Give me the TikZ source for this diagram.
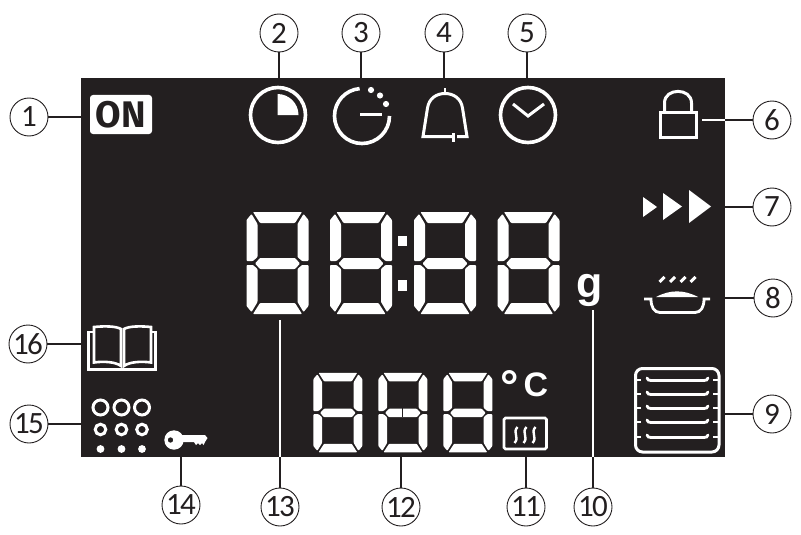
\documentclass[tikz,border=0pt]{standalone}
\usepackage{fontspec}
\usepackage{xcolor}
\setmainfont{Carlito}
\newfontfamily\calloutfont[LetterSpace=-6]{Carlito}
\newfontfamily\onfont{Fira Sans}
\newfontfamily\unitfont{Liberation Sans}
\definecolor{panel}{HTML}{231F20}
\tikzset{
  callout/.style={draw=panel,circle,line width=0.9pt,fill=white,text=panel,minimum size=38pt,inner sep=0pt,font=\calloutfont\fontsize{31}{31}\selectfont},
  leader/.style={draw=panel,line width=1.2pt},
  leaderw/.style={draw=white,line width=1.2pt},
  icon/.style={draw=white,line width=3.6pt},
  thinicon/.style={draw=white,line width=2.6pt},
  seg/.style={fill=white,rounded corners=0.8pt}
}
\newcommand{\lcddigit}[4]{
  \begin{scope}[shift={(#1,#2)},xscale=#3,yscale=#4]
    \fill[seg] (7,1) -- (56,1) -- (49,12) -- (14,12) -- cycle;
    \fill[seg] (0.5,9) -- (5.5,3) -- (11.5,13) -- (11.5,46) -- (7,50) -- (0.5,50) -- cycle;
    \fill[seg] (62.5,9) -- (57.5,3) -- (51.5,13) -- (51.5,46) -- (56,50) -- (62.5,50) -- cycle;
    \fill[seg] (9,52.5) -- (14,47) -- (49,47) -- (54,52.5) -- (49,58) -- (14,58) -- cycle;
    \fill[seg] (0.5,54) -- (7,54) -- (11.5,58) -- (11.5,91) -- (5.5,101) -- (0.5,95) -- cycle;
    \fill[seg] (62.5,54) -- (56,54) -- (51.5,58) -- (51.5,91) -- (57.5,101) -- (62.5,95) -- cycle;
    \fill[seg] (14,92) -- (49,92) -- (56,103) -- (7,103) -- cycle;
  \end{scope}
}

\begin{document}
\begin{tikzpicture}[x=1pt,y=-1pt]
\useasboundingbox (0,0) rectangle (801,535);
\fill[panel] (81,78) rectangle (725,457);

% callouts
\node[callout] (c1) at (29,117) {1};
\node[callout] (c2) at (279,33) {2};
\node[callout] (c3) at (361,33) {3};
\node[callout] (c4) at (444,33) {4};
\node[callout] (c5) at (527,33) {5};
\node[callout] (c6) at (772,120) {6};
\node[callout] (c7) at (772,207) {7};
\node[callout] (c8) at (773,298) {8};
\node[callout] (c9) at (772,414) {9};
\node[callout] (c10) at (593,507) {10};
\node[callout] (c11) at (526,507) {11};
\node[callout] (c12) at (401,507) {12};
\node[callout] (c13) at (280,507) {13};
\node[callout] (c14) at (181,505) {14};
\node[callout] (c15) at (29,424) {15};
\node[callout] (c16) at (28,344) {16};

\coordinate (e1) at (81,117);
\coordinate (e2) at (279,78);
\coordinate (e3) at (361,78);
\coordinate (e4) at (444,78);
\coordinate (e5) at (527,78);
\coordinate (e6) at (725,120);
\coordinate (s6) at (702,120);
\coordinate (e7) at (725,207);
\coordinate (e8) at (725,298);
\coordinate (e9) at (725,414);
\coordinate (e10) at (593,457);
\coordinate (s10) at (593,310);
\coordinate (e11) at (526,457);
\coordinate (e12) at (401,457);
\coordinate (e13) at (280,457);
\coordinate (s13) at (280,320);
\coordinate (e14) at (181,457);
\coordinate (e15) at (81,424);
\coordinate (e16) at (81,344);

\foreach \n in {1,...,16}
  \draw[leader] (c\n) -- (e\n);
\draw[leaderw] (e6) -- (s6);
\draw[leaderw] (e10) -- (s10);
\draw[leaderw] (e13) -- (s13);

% on badge
\node[fill=white,rounded corners=3pt,minimum width=62pt,minimum height=39pt,inner sep=0pt,text=panel,font=\onfont\bfseries\fontsize{37}{37}\selectfont] (onbadge) at (121,114.5) {ON};

% clocks
\draw[icon] (278,115) circle (27.5);
\fill[white] (277.5,115) -- (277.5,94) arc (-90:0:21) -- cycle;
\draw[icon] (389.5,116) arc (0:265:27.5);
\draw[icon] (360,114.5) -- (382,114.5);
\foreach \dx/\dy in {371/90,380/95.5,386/104}
  \fill[white] (\dx,\dy) circle (3.1);
\draw[icon] (528,115) circle (27.5);
\draw[draw=white,line width=3pt] (513,104) -- (528,116) -- (544,104);

% bell
\draw[draw=white,line width=3pt] (453,136.5) -- (423,136.5) -- (427.5,108) .. controls (429,98) and (437,93.5) .. (445,93.5) .. controls (453,93.5) and (461,98) .. (462.5,108) -- (467,136.5) -- (457,136.5);
\draw[thinicon] (445,93) -- (445,88);
\draw[draw=white,line width=3pt] (453.5,133) -- (453.5,142);

% lock
\draw[draw=white,line width=3pt] (660,112) rectangle (696,137);
\draw[draw=white,line width=3pt] (664.5,112) -- (664.5,103) .. controls (664.5,87.5) and (691.5,87.5) .. (691.5,103) -- (691.5,112);

% arrows
\fill[white] (643,197) -- (657,207) -- (643,217) -- cycle;
\fill[white] (663,193) -- (682,206.5) -- (663,220) -- cycle;
\fill[white] (689,190) -- (711,206.5) -- (689,223) -- cycle;

% pan
\foreach \sx in {662,672.5,683,693}
  \draw[draw=white,line width=3pt] (\sx-2.5,282) -- (\sx+2.5,277);
\fill[white] (656,297) .. controls (670,289.5) and (684,289.5) .. (698,297) -- cycle;
\draw[draw=white,line width=2.8pt] (644,299) -- (651,299) .. controls (651,307) and (654,312.5) .. (660,312.5) -- (695,312.5) .. controls (701,312.5) and (704,307) .. (704,299) -- (710,299);

% g
\node[text=white,inner sep=0pt,font=\unitfont\bfseries\fontsize{43}{43}\selectfont,anchor=base] (gram) at (590,297) {g};

% main digits
\lcddigit{246}{211}{1}{1}
\lcddigit{329.5}{211}{1}{1}
\lcddigit{413.5}{211}{1}{1}
\lcddigit{497}{211}{1}{1}
\fill[white] (398,236) rectangle (407,246);
\fill[white] (398,280) rectangle (407,291);

% small digits
\lcddigit{313}{372}{0.79}{0.78}
\lcddigit{378}{372}{0.79}{0.78}
\lcddigit{443}{372}{0.79}{0.78}
\draw[draw=panel,line width=1pt] (402.5,407) -- (402.5,417);

% celsius
\node[text=white,inner sep=0pt,font=\unitfont\bfseries\fontsize{34}{34}\selectfont,anchor=base west] (celsius) at (500,396) {{\fontsize{46}{46}\selectfont\raisebox{-6pt}{°}}\kern5pt C};

% heater
\draw[draw=white,line width=2.6pt,rounded corners=1.5pt] (504,418) rectangle (546.5,449);
\foreach \hx in {516,525,534}
  \draw[draw=white,line width=2.4pt] (\hx+1.5,427) .. controls (\hx-4,433) and (\hx+4,437) .. (\hx-1.5,443);

% rack
\draw[draw=white,line width=3pt,rounded corners=7pt] (635.5,368.5) rectangle (719,452);
\foreach \ry in {380,394,408,422,437}{
  \draw[draw=white,line width=2.8pt,line cap=round] (647,\ry-2) .. controls (647.5,\ry) and (649,\ry+0.5) .. (651,\ry+0.5) -- (704,\ry+0.5) .. controls (706,\ry+0.5) and (707.5,\ry) .. (708,\ry-2);
  \draw[draw=white,line width=2.8pt] (636,\ry) -- (641,\ry);
  \draw[draw=white,line width=2.8pt] (713,\ry) -- (718,\ry);
}

% book
\draw[thinicon] (94,327) .. controls (104,326) and (116,326) .. (121,329) -- (121,366) .. controls (116,362) and (104,361) .. (94,362.5) -- cycle;
\draw[thinicon] (151,327) .. controls (141,326) and (129,326) .. (124,329) -- (124,366) .. controls (129,362) and (141,361) .. (151,362.5) -- cycle;
\draw[thinicon] (94,332) -- (88.5,332) -- (88.5,369.5) -- (155.5,369.5) -- (155.5,332) -- (151,332);

% dots
\foreach \gx in {100.5,121.5,142}{
  \draw[draw=white,line width=3pt] (\gx,407.5) circle (7.5);
  \draw[draw=white,line width=3pt] (\gx,429.5) circle (5.3);
  \fill[white] (\gx,449) circle (3.9);
}

% key
\fill[white,even odd rule] (174,440) circle (9.7) (170.5,440) circle (2.8);
\fill[white] (182,435) -- (205,435) -- (207.5,438) -- (205,442) -- (203.5,445) -- (202,443) -- (200,445) -- (198,443) -- (196,445) -- (194,442) -- (182,442) -- cycle;
\end{tikzpicture}
\end{document}
